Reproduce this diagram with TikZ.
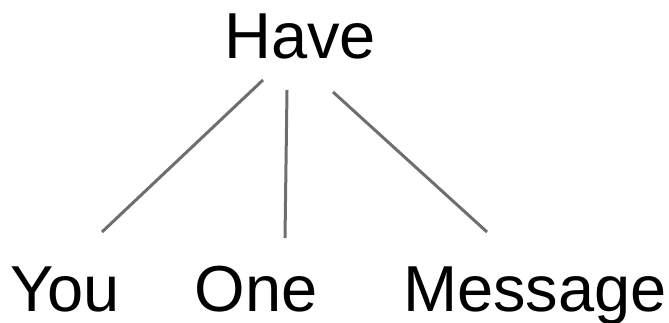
\documentclass[tikz,border=0pt]{standalone}
\usepackage{fontspec}
\setmainfont{Liberation Sans}
\begin{document}
\begin{tikzpicture}[x=1pt,y=1pt,
  word/.style={inner sep=0pt,anchor=base,font=\fontsize{65}{78}\selectfont},
  branch/.style={draw=black!57,line width=3pt}]
\useasboundingbox (0,0) rectangle (669,323);
\node[word] (have) at (300,264) {Have};
\node[word] (you) at (65,11) {You};
\node[word] (one) at (256,11) {One};
\node[word] (message) at (535,11) {Message};
\coordinate (h1) at (263,243);
\coordinate (h2) at (287,233);
\coordinate (h3) at (333,231);
\coordinate (y1) at (102,91);
\coordinate (o1) at (285,85);
\coordinate (m1) at (487,91);
\draw[branch] (h1) -- (y1);
\draw[branch] (h2) -- (o1);
\draw[branch] (h3) -- (m1);
\end{tikzpicture}
\end{document}
